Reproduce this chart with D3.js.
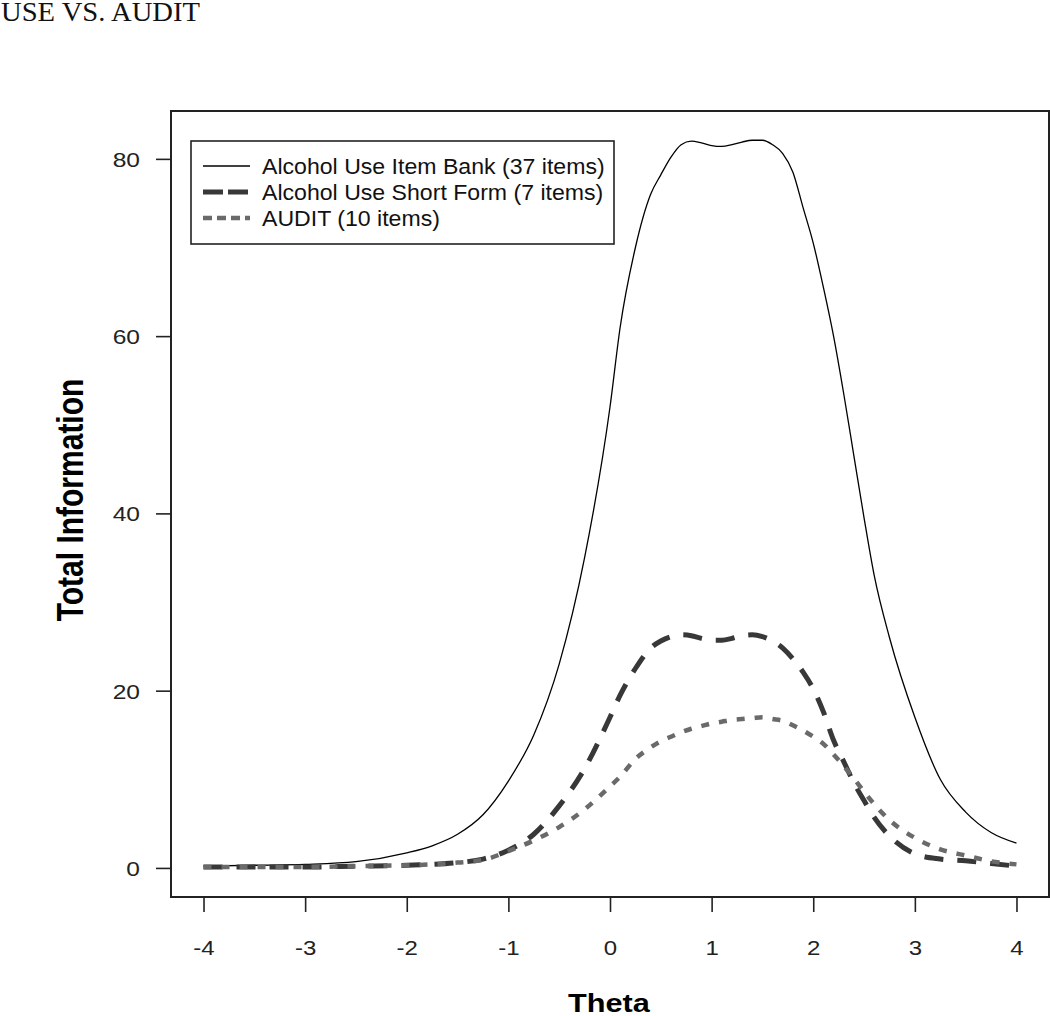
<!DOCTYPE html>
<html><head><meta charset="utf-8">
<script src="https://cdn.jsdelivr.net/npm/d3@7"></script>
<style>body{margin:0;background:#fff}svg{display:block}</style>
</head><body>
<svg id="c" width="1050" height="1016"></svg>
<script>
const theta = [-4,-3.5,-3,-2.5,-2,-1.75,-1.5,-1.25,-1,-0.75,-0.5,-0.25,0,0.1,0.25,0.4,0.5,0.6,0.7,0.8,0.9,1.0,1.1,1.2,1.3,1.4,1.5,1.6,1.7,1.8,1.9,2.0,2.1,2.2,2.3,2.4,2.5,2.6,2.75,3.0,3.25,3.5,3.75,4];
const itemBank = [0.2,0.3,0.4,0.7,1.7,2.5,3.8,6.0,9.8,15,23,35,52,61,70,76,78.2,80.2,81.6,82,81.8,81.5,81.4,81.6,81.9,82.1,82.1,81.6,80.6,78.5,74.5,70.5,65.5,60,53.5,46.5,39.5,33,26,17,10,6.3,4.0,2.8];
const shortForm = [0.1,0.1,0.1,0.2,0.3,0.4,0.6,1.0,2.0,3.8,7.0,11.2,17,19.5,22.5,24.8,25.6,26.1,26.3,26.2,25.9,25.7,25.7,25.9,26.2,26.3,26.1,25.6,24.8,23.6,22.1,20.2,17.6,14.4,12.0,9.6,7.6,5.7,3.6,1.6,1.0,0.8,0.5,0.2];
const audit = [0.1,0.1,0.1,0.2,0.3,0.4,0.6,0.9,1.9,3.1,4.6,6.6,9.2,10.3,12.3,13.6,14.3,14.8,15.3,15.7,16.0,16.3,16.5,16.7,16.8,16.9,17.0,16.8,16.6,16.1,15.5,14.8,14.0,12.8,11.5,10.1,8.6,7.2,5.4,3.4,2.1,1.4,0.75,0.4];
const seriesNames = ["Alcohol Use Item Bank (37 items)","Alcohol Use Short Form (7 items)","AUDIT (10 items)"];
const xTicks = [-4,-3,-2,-1,0,1,2,3,4];
const yTicks = [0,20,40,60,80];
const pageTitle = "USE VS. AUDIT";
const xTitle = "Theta";
const yTitle = "Total Information";

const svg = d3.select("#c");
const x = d3.scaleLinear().domain([-4.32, 4.32]).range([171, 1049]);
const y = d3.scaleLinear().domain([-3.28, 85.4]).range([897, 111]);

const styles = [
  {stroke:"#000", width:1.3, dash:null},
  {stroke:"#383838", width:5, dash:"19,14"},
  {stroke:"#6a6a6a", width:4.5, dash:"8,10"}
];
const allSeries = [itemBank, shortForm, audit];

// page title
svg.append("text").attr("transform","translate(1,21) scale(1.06,1)")
  .attr("font-family","'Liberation Serif','Times New Roman',serif").attr("font-size",27)
  .attr("fill","#111").text(pageTitle);

// lines
const line = d3.line().x(d=>x(d[0])).y(d=>y(d[1])).curve(d3.curveMonotoneX);
allSeries.forEach((s,i)=>{
  const pts = theta.map((t,j)=>[t,s[j]]);
  svg.append("path").attr("d", line(pts)).attr("fill","none")
    .attr("stroke", styles[i].stroke).attr("stroke-width", styles[i].width)
    .attr("stroke-dasharray", styles[i].dash).attr("stroke-linejoin","round");
});

// frame
svg.append("rect").attr("x",171).attr("y",111).attr("width",878).attr("height",786)
  .attr("fill","none").attr("stroke","#222").attr("stroke-width",2);

// axes
const yAxis = svg.append("g").attr("transform","translate(171,0)")
  .call(d3.axisLeft(y).tickValues(yTicks).tickSize(15).tickPadding(16).tickFormat(d3.format("d")));
const xAxis = svg.append("g").attr("transform","translate(0,897)")
  .call(d3.axisBottom(x).tickValues(xTicks).tickSize(15).tickFormat(d3.format("d")));
[yAxis,xAxis].forEach(a=>{
  a.select(".domain").remove();
  a.selectAll(".tick line").attr("stroke","#222").attr("stroke-width",1.6);
  a.selectAll("text").attr("font-family","'Liberation Sans',Arial,sans-serif").attr("fill","#222");
});
yAxis.selectAll("text").attr("font-size",21).attr("x",0).attr("dy","0.36em")
  .attr("transform","translate(-31,0) scale(1.17,1)");
xAxis.selectAll("text").attr("font-size",20).attr("y",0).attr("dy",0)
  .attr("transform","translate(0,58) scale(1.2,1)").text(d=>d<0?"-"+Math.abs(d):d);

// axis titles
svg.append("text").attr("transform","translate(609,1012) scale(1.18,1)")
  .attr("text-anchor","middle").attr("font-family","'Liberation Sans',Arial,sans-serif")
  .attr("font-weight","bold").attr("font-size",26).attr("fill","#000").text(xTitle);
svg.append("text").attr("transform","translate(83,500) rotate(-90) scale(1,1.2)")
  .attr("text-anchor","middle").attr("font-family","'Liberation Sans',Arial,sans-serif")
  .attr("font-weight","bold").attr("font-size",30).attr("fill","#000").text(yTitle);

// legend
const lg = svg.append("g");
lg.append("rect").attr("x",191).attr("y",141).attr("width",423).attr("height",103)
  .attr("fill","#fff").attr("stroke","#222").attr("stroke-width",1.6);
const rowY = [166,192,218];
seriesNames.forEach((n,i)=>{
  lg.append("line").attr("x1",203).attr("x2",250).attr("y1",rowY[i]).attr("y2",rowY[i])
    .attr("stroke",styles[i].stroke).attr("stroke-width",styles[i].width)
    .attr("stroke-dasharray", i===1?"20,5": (i===2?"9,5":null));
  lg.append("text").attr("transform",`translate(262,${rowY[i]}) scale(1.05,1)`)
    .attr("dy","0.36em").attr("font-family","'Liberation Sans',Arial,sans-serif")
    .attr("font-size",22).attr("fill","#111").text(n);
});
</script>
</body></html>
